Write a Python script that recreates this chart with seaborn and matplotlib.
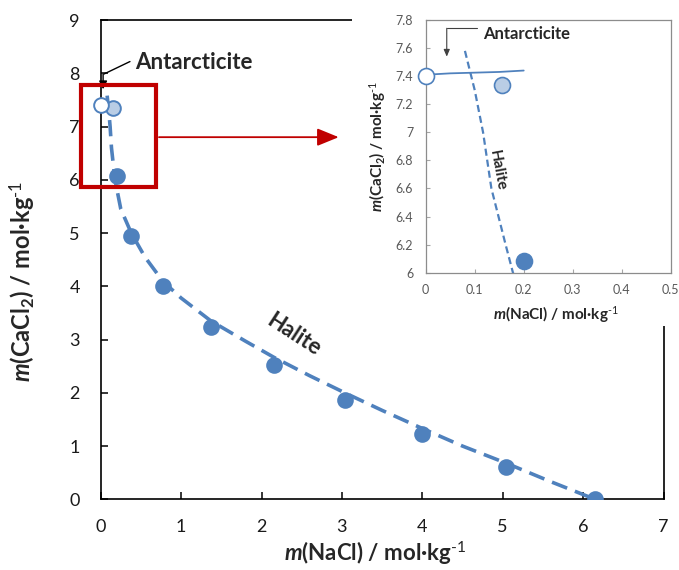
import matplotlib
matplotlib.use("Agg")
import matplotlib.pyplot as plt
from matplotlib.patches import Rectangle
from matplotlib.ticker import FuncFormatter
import seaborn as sns

# Halite saturation points, m(NaCl) vs m(CaCl2) in mol/kg
halite_nacl = [0.20, 0.38, 0.77, 1.37, 2.15, 3.04, 4.00, 5.04, 6.15]
halite_cacl2 = [6.08, 4.95, 4.01, 3.24, 2.52, 1.86, 1.22, 0.61, 0.00]
# Halite + antarcticite invariant point
invariant_nacl = [0.155]
invariant_cacl2 = [7.34]
# Antarcticite solubility in the binary CaCl2-H2O system
antarc_nacl = [0.0]
antarc_cacl2 = [7.40]
# Model solubility curves
halite_curve_nacl = [0.08, 0.10, 0.117, 0.134, 0.163, 0.178, 0.25, 0.38, 0.55,
                     0.77, 1.00, 1.37, 1.80, 2.15, 2.60, 3.05, 3.50, 4.00,
                     4.50, 5.05, 5.60, 6.10]
halite_curve_cacl2 = [7.58, 7.30, 7.00, 6.60, 6.20, 6.00, 5.45, 5.00, 4.55,
                      4.10, 3.78, 3.35, 2.97, 2.67, 2.32, 1.99, 1.67, 1.33,
                      1.00, 0.675, 0.33, 0.03]
antarc_curve_nacl = [0.0, 0.05, 0.10, 0.15, 0.20]
antarc_curve_cacl2 = [7.41, 7.42, 7.425, 7.43, 7.44]

main_xticks = list(range(0, 8))
main_yticks = list(range(0, 10))
inset_xticks = [0, 0.1, 0.2, 0.3, 0.4, 0.5]
inset_yticks = [6.0, 6.2, 6.4, 6.6, 6.8, 7.0, 7.2, 7.4, 7.6, 7.8]

BLUE = "#4f81bd"
LIGHT = "#b9cde5"
RED = "#c00000"

sns.set_theme(style="ticks")
plt.rcParams["font.family"] = ["Lato", "DejaVu Sans"]
plt.rcParams["mathtext.fontset"] = "custom"
plt.rcParams["mathtext.rm"] = "Lato"
plt.rcParams["mathtext.it"] = "Lato:italic"
plt.rcParams["mathtext.bf"] = "Lato:bold"
plt.rcParams["mathtext.bfit"] = "Lato:bold:italic"

YLAB = r"$\mathbfit{m}$(CaCl$_\mathbf{2}$) / mol·kg$^{\text{-1}}$"
XLAB = r"$\mathbfit{m}$(NaCl) / mol·kg$^{\text{-1}}$"

fig = plt.figure(figsize=(6.79, 5.70), dpi=100)
fig.patch.set_facecolor("white")

fmt = FuncFormatter(lambda v, p: f"{v:g}")


def draw_series(ax, msize, curve_lw, dash, edge_lw):
    sns.lineplot(x=halite_curve_nacl, y=halite_curve_cacl2, sort=False,
                 estimator=None, ax=ax, color=BLUE, lw=curve_lw,
                 linestyle=(0, dash), zorder=2)
    sns.lineplot(x=antarc_curve_nacl, y=antarc_curve_cacl2, sort=False,
                 estimator=None, ax=ax, color=BLUE, lw=curve_lw * 0.8,
                 zorder=2)
    sns.scatterplot(x=halite_nacl, y=halite_cacl2, ax=ax, s=msize,
                    color=BLUE, edgecolor=BLUE, linewidth=edge_lw, zorder=3)
    sns.scatterplot(x=invariant_nacl, y=invariant_cacl2, ax=ax, s=msize,
                    color=LIGHT, edgecolor=BLUE, linewidth=edge_lw, zorder=3)
    sns.scatterplot(x=antarc_nacl, y=antarc_cacl2, ax=ax, s=msize,
                    color="white", edgecolor=BLUE, linewidth=edge_lw,
                    zorder=4, clip_on=False)


# ---- main phase diagram ----
ax = fig.add_axes([0.1483, 0.1240, 0.8289, 0.8409])
draw_series(ax, 112, 2.6, (4.5, 2.3), 1.4)
ax.set_xlim(0, 7)
ax.set_ylim(0, 9)
ax.set_xticks(main_xticks)
ax.set_yticks(main_yticks)
ax.xaxis.set_major_formatter(fmt)
ax.yaxis.set_major_formatter(fmt)
ax.tick_params(direction="in", length=5, width=1.1, color="black",
               labelsize=13, labelcolor="#1a1a1a")
ax.tick_params(axis="y", pad=15)
ax.tick_params(axis="x", pad=14)
for s in ax.spines.values():
    s.set_color("black")
    s.set_linewidth(1.2)
ax.set_xlabel(XLAB, fontsize=16, fontweight="bold")
ax.set_ylabel(YLAB, fontsize=17, fontweight="bold")
ax.xaxis.set_label_coords(0.487, -0.083)
ax.yaxis.set_label_coords(-0.112, 0.455)

# zoom box and arrow toward the inset
ax.add_patch(Rectangle((-0.249, 5.87), 0.933, 1.91, fill=False, ec=RED,
                       lw=3, clip_on=False, zorder=5))
ax.annotate("", xy=(2.96, 6.80), xytext=(0.725, 6.80),
            arrowprops=dict(arrowstyle="-|>,head_length=1.1,head_width=0.45",
                            color=RED, lw=1.3, shrinkA=0, shrinkB=0))

# labels
ax.text(0.43, 8.20, "Antarcticite", fontsize=16, fontweight="bold",
        ha="left", va="center")
ax.plot([0.364, 0.04], [8.22, 7.985], color="black", lw=1, zorder=5,
        clip_on=False)
ax.annotate("", xy=(0.03, 7.70), xytext=(0.03, 7.985),
            arrowprops=dict(arrowstyle="-|>,head_length=0.4,head_width=0.2",
                            color="black", lw=1, shrinkA=0, shrinkB=0))
ax.text(2.40, 3.08, "Halite", fontsize=16, fontweight="bold",
        rotation=-33, ha="center", va="center", rotation_mode="anchor")

# white panel behind the inset
fig.add_artist(Rectangle((352 / 679, 1 - 326 / 570), 1 - 352 / 679,
                         326 / 570, transform=fig.transFigure,
                         fc="white", ec="none", zorder=1))

# ---- inset: enlarged region near the invariant point ----
ins = fig.add_axes([0.6270, 0.5216, 0.3608, 0.4433])
ins.set_zorder(2)
ins.set_facecolor("white")
draw_series(ins, 132, 1.6, (3.2, 1.8), 1.2)
ins.set_xlim(0, 0.5)
ins.set_ylim(6, 7.8)
ins.set_xticks(inset_xticks)
ins.set_yticks(inset_yticks)
ins.xaxis.set_major_formatter(fmt)
ins.yaxis.set_major_formatter(fmt)
ins.tick_params(direction="in", length=3, width=0.8, color="#a6a6a6",
                labelsize=9, labelcolor="#595959")
ins.tick_params(axis="y", pad=9)
ins.tick_params(axis="x", pad=8)
for s in ins.spines.values():
    s.set_color("#8c8c8c")
    s.set_linewidth(0.9)
ins.set_xlabel(XLAB, fontsize=11, fontweight="bold", color="#262626")
ins.set_ylabel(YLAB, fontsize=11, fontweight="bold", color="#262626")
ins.xaxis.set_label_coords(0.53, -0.125)
ins.yaxis.set_label_coords(-0.155, 0.50)
ins.text(0.117, 7.70, "Antarcticite", fontsize=12, fontweight="bold",
         ha="left", va="center")
ins.plot([0.104, 0.0429], [7.741, 7.741], color="#404040", lw=0.8)
ins.annotate("", xy=(0.0429, 7.539), xytext=(0.0429, 7.741),
             arrowprops=dict(arrowstyle="-|>,head_length=0.35,head_width=0.15",
                             color="#404040", lw=0.8, shrinkA=0, shrinkB=0))
ins.text(0.146, 6.73, "Halite", fontsize=11, fontweight="bold",
         rotation=-79.5, ha="center", va="center", rotation_mode="anchor")

fig.savefig("out.png", dpi=100, facecolor="white")
